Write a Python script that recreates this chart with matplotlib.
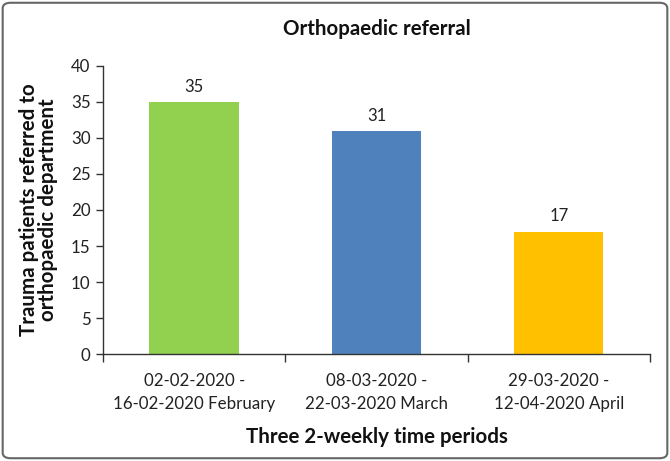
import matplotlib
matplotlib.use("Agg")
import matplotlib.pyplot as plt
from matplotlib.patches import FancyBboxPatch

categories = ["02-02-2020 -\n16-02-2020 February",
              "08-03-2020 -\n22-03-2020 March",
              "29-03-2020 -\n12-04-2020 April"]
values = [35, 31, 17]
colors = ["#92D050", "#4F81BD", "#FFC000"]
yticks = [0, 5, 10, 15, 20, 25, 30, 35, 40]

plt.rcParams['font.family'] = ['Lato', 'DejaVu Sans']

fig = plt.figure(figsize=(6.7, 4.61), dpi=100)
ax = fig.add_axes([0.1537, 0.232, 0.8163, 0.625])

x = list(range(len(categories)))
ax.bar(x, values, width=0.49, color=colors)
for xi, v in zip(x, values):
    ax.text(xi, v + 1.0, str(v), ha='center', va='bottom', fontsize=12, color='#222222')

ax.set_xlim(-0.5, len(categories) - 0.5)
ax.set_ylim(0, 40)
ax.set_yticks(yticks)
ax.set_xticks(x)
ax.set_xticklabels(categories, fontsize=12.2, color='#222222', linespacing=1.5)
ax.set_xticks([i - 0.5 for i in range(len(categories) + 1)], minor=True)
ax.tick_params(axis='x', which='major', length=0, pad=14)
ax.tick_params(axis='x', which='minor', length=6, width=1, color='#333333', direction='out')
ax.tick_params(axis='y', length=5, width=1, color='#333333', labelsize=12.2, labelcolor='#222222', pad=4)

for s in ['top', 'right']:
    ax.spines[s].set_visible(False)
for s in ['left', 'bottom']:
    ax.spines[s].set_color('#333333')
    ax.spines[s].set_linewidth(1)

ax.set_title("Orthopaedic referral", fontsize=14.8, fontweight='bold', pad=22, color='#111111')
ax.set_xlabel("Three 2-weekly time periods", fontsize=14.8, fontweight='bold', labelpad=11, color='#111111')
ax.set_ylabel("Trauma patients referred to\northopaedic department", fontsize=14.8, fontweight='bold',
              labelpad=9, color='#111111', linespacing=0.95)

border = FancyBboxPatch((0.004, 0.006), 0.992, 0.988, boxstyle="round,pad=0,rounding_size=0.012",
                        transform=fig.transFigure, fill=False, edgecolor='#666666', linewidth=1.5)
fig.patches.append(border)

fig.savefig("out.png", dpi=100)
